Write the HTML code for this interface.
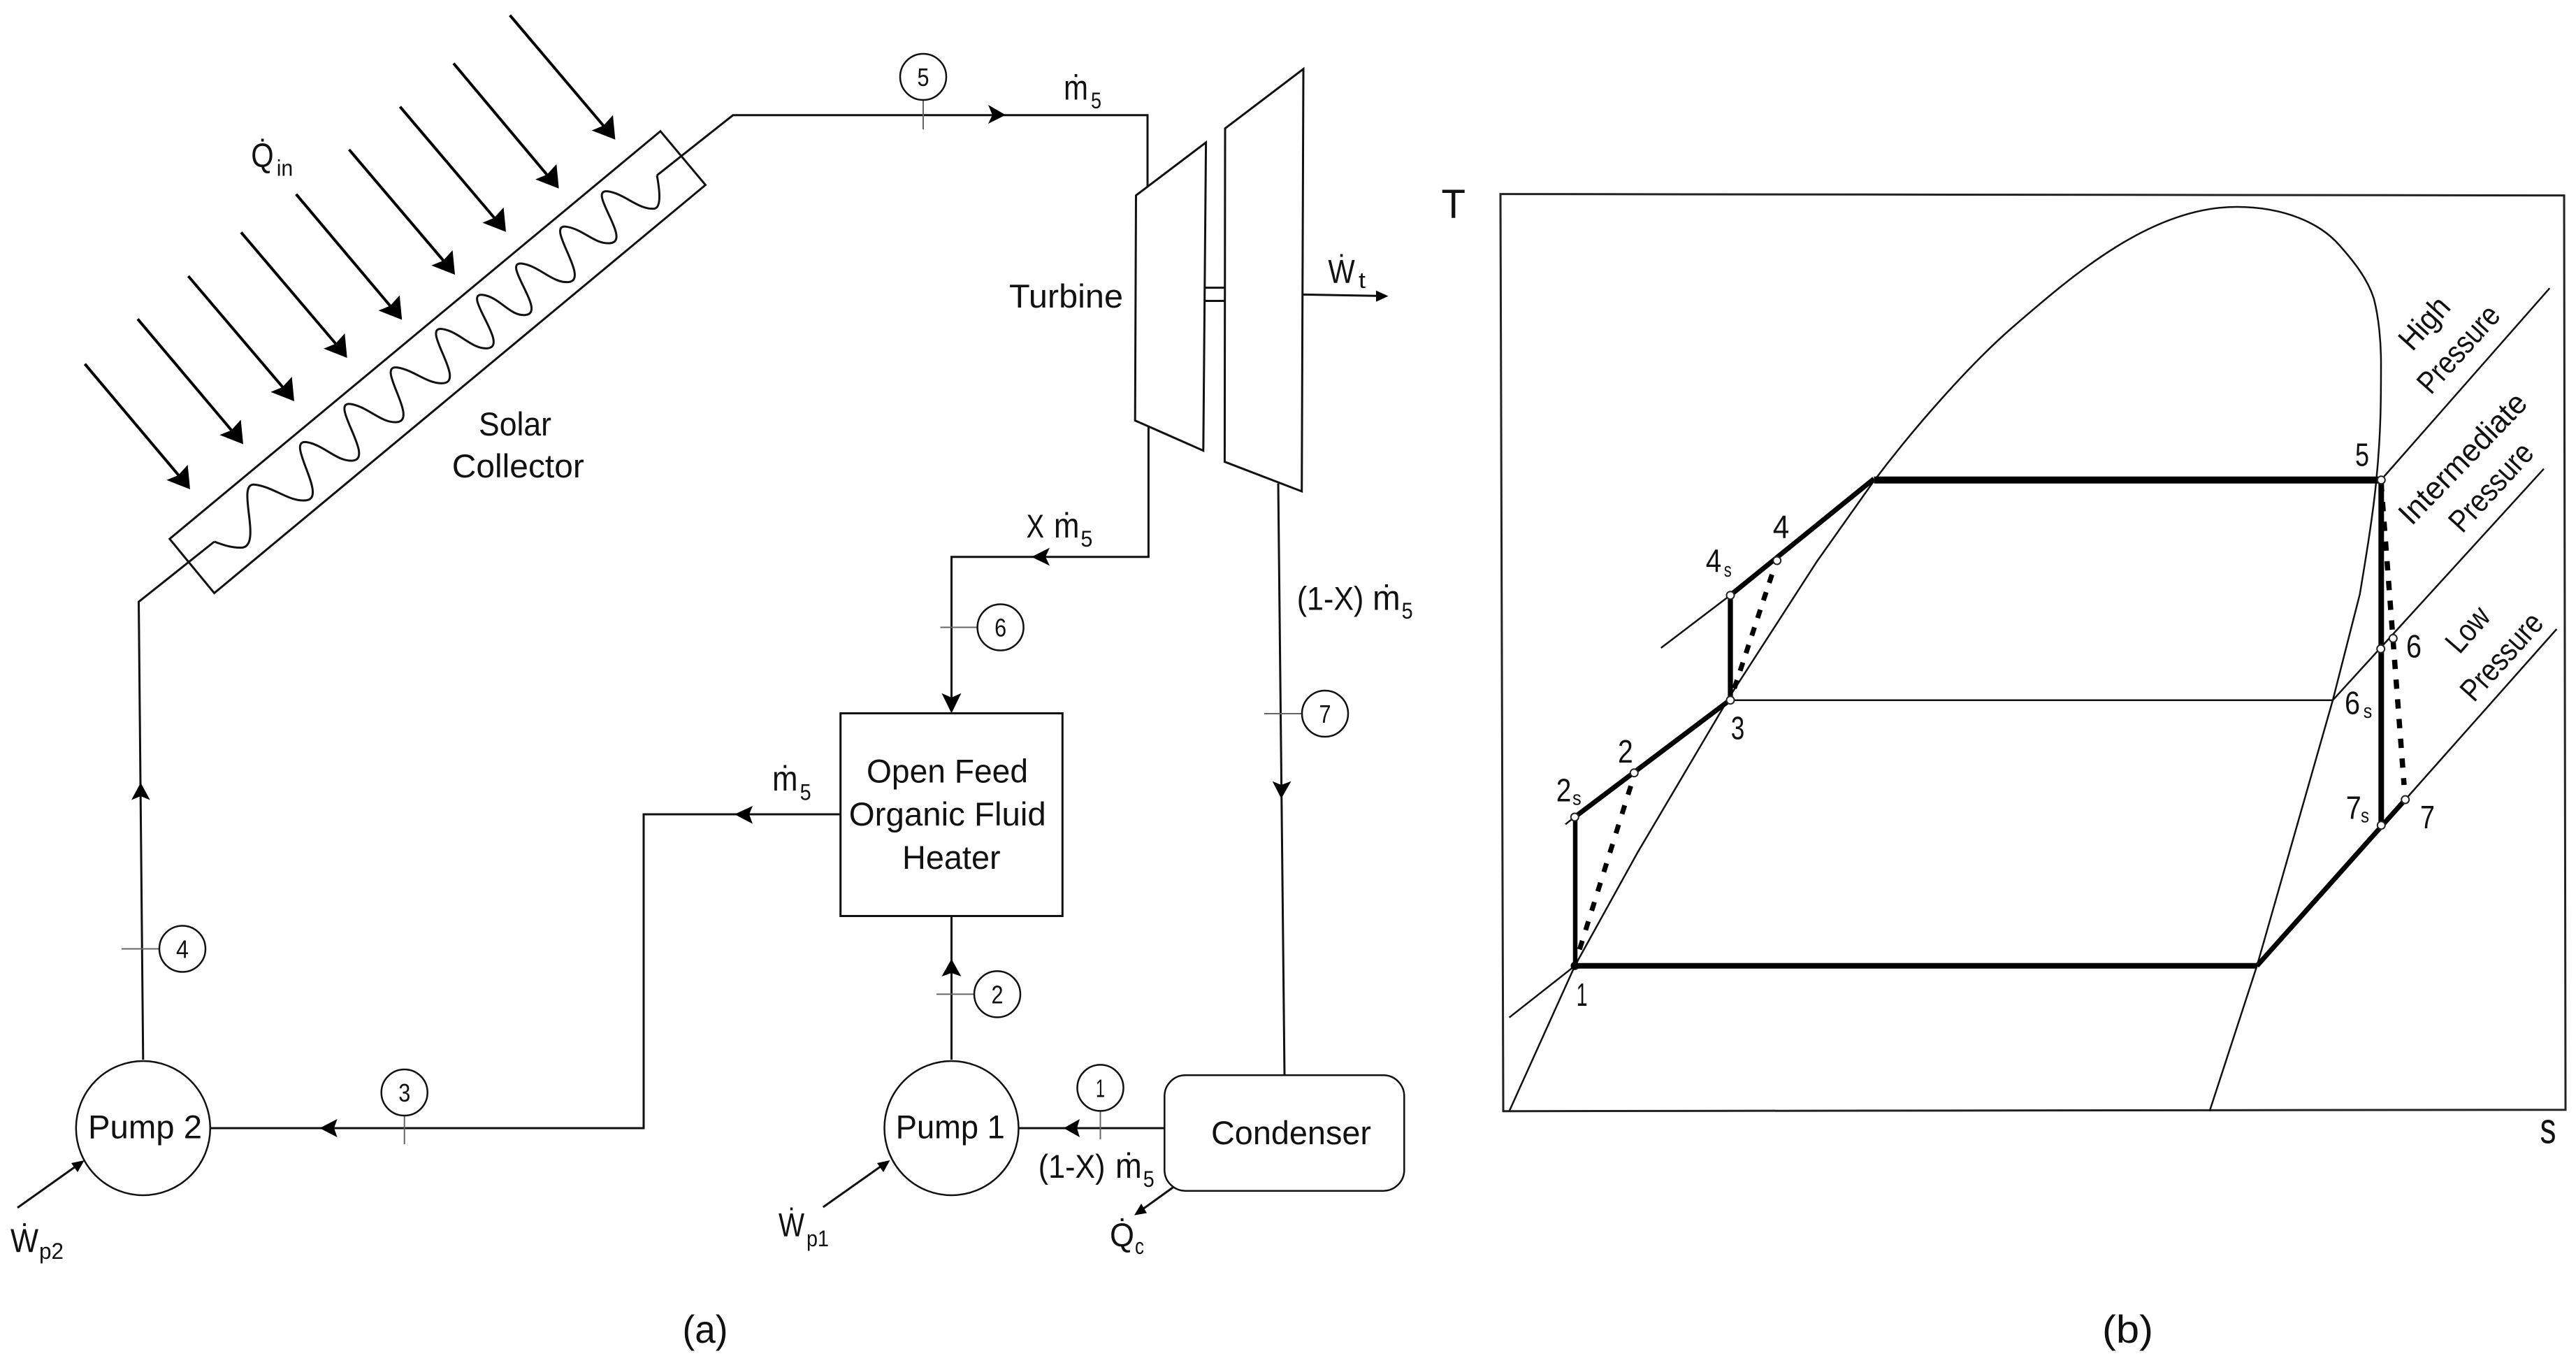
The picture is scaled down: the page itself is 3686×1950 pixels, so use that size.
<!DOCTYPE html>
<html><head><meta charset="utf-8"><title>Organic Rankine cycle diagram</title>
<style>
html,body{margin:0;padding:0;background:#fff}
svg{display:block}
text{font-family:"Liberation Sans","DejaVu Sans",sans-serif;font-size:47px;fill:#111}
.n{font-size:36px;text-anchor:middle}
.s{font-size:32px}
.m{font-size:50px}
.d{font-size:46px}
.p{font-size:45px}
.f{fill:none;stroke:#111;stroke-width:3}
.t{fill:none;stroke:#666;stroke-width:2}
.c{fill:#fff;stroke:#111;stroke-width:2.5}
.k{fill:none;stroke:#000;stroke-linecap:butt}
.o{fill:#fff;stroke:#222;stroke-width:2}
</style></head><body>
<svg xmlns="http://www.w3.org/2000/svg" width="3686" height="1950" viewBox="0 0 3686 1950">
<rect width="3686" height="1950" fill="#fff"/>

<!-- solar arrows -->
<g stroke="#000" stroke-width="4" fill="none">
<line x1="729.6" y1="21.8" x2="867" y2="184"/>
<line x1="649" y1="90.7" x2="786" y2="254"/>
<line x1="572.4" y1="152.7" x2="711" y2="316"/>
<line x1="499.5" y1="214" x2="638" y2="377"/>
<line x1="423.7" y1="277.8" x2="562" y2="442"/>
<line x1="345" y1="332.4" x2="484" y2="496"/>
<line x1="269.4" y1="395" x2="408" y2="558"/>
<line x1="197" y1="456.4" x2="335" y2="620"/>
<line x1="121.4" y1="520.7" x2="259" y2="684"/>
</g>
<g fill="#000">
<polygon transform="translate(880.4,199.8)" points="0,0 -33.7,-13.2 -17,-20 -3.4,-35"/>
<polygon transform="translate(799.7,269.8)" points="0,0 -33.7,-13.2 -17,-20 -3.4,-35"/>
<polygon transform="translate(724,331.8)" points="0,0 -33.7,-13.2 -17,-20 -3.4,-35"/>
<polygon transform="translate(651,393)" points="0,0 -33.7,-13.2 -17,-20 -3.4,-35"/>
<polygon transform="translate(575.2,457.5)" points="0,0 -33.7,-13.2 -17,-20 -3.4,-35"/>
<polygon transform="translate(496.7,512)" points="0,0 -33.7,-13.2 -17,-20 -3.4,-35"/>
<polygon transform="translate(421,574)" points="0,0 -33.7,-13.2 -17,-20 -3.4,-35"/>
<polygon transform="translate(348,635.5)" points="0,0 -33.7,-13.2 -17,-20 -3.4,-35"/>
<polygon transform="translate(272,700)" points="0,0 -33.7,-13.2 -17,-20 -3.4,-35"/>
</g>

<!-- collector -->
<polygon class="f" points="242.7,771 945,187.7 1009.5,264.6 306.6,848.5"/>
<g transform="scale(0.7015,0.574)">
<path fill="none" stroke="#111" stroke-width="3" vector-effect="non-scaling-stroke" d="M437 1350 C455 1358 470 1365 490 1365
C540 1368 478 1200 520 1208 C560 1214 590 1252 625 1247
C670 1240 580 1095 625 1102 C660 1108 688 1152 720 1148
C765 1142 670 1000 715 1007 C750 1013 778 1056 810 1052
C855 1046 765 909 810 916 C845 922 873 959 905 955
C950 949 857 813 902 820 C937 826 963 872 995 868
C1040 862 940 728 985 735 C1020 741 1040 789 1072 785
C1117 779 1020 650 1065 657 C1100 663 1128 707 1160 703
C1205 697 1110 558 1155 565 C1190 571 1213 610 1245 606
C1290 600 1195 470 1240 477 C1275 483 1303 524 1335 520
C1350 516 1345 470 1340 437"/>
</g>
<polyline class="f" points="204.8,1516 198.5,861 306.6,775"/>
<polyline class="f" points="940,250.9 1048.8,164.8 1642,164.8 1642,267"/>

<!-- turbine -->
<polygon class="f" points="1625.5,279.6 1725.6,203.8 1721.8,644.7 1624.2,601.6"/>
<polygon class="f" points="1753,183.7 1865,98.7 1862.7,703 1752.4,660.7"/>
<line class="f" x1="1724" y1="411.6" x2="1752" y2="411.6"/>
<line class="f" x1="1724" y1="430.5" x2="1752" y2="430.5"/>
<polyline class="f" points="1864,421.4 1975,423.4"/>
<polygon fill="#000" points="1986.5,423.6 1969,415.6 1969,431.7"/>
<polyline class="f" points="1643.4,610 1643.4,796.8 1361.5,796.8 1361.5,1000"/>
<polyline class="f" points="1829,691.7 1838,1538"/>

<!-- heater, pumps, condenser -->
<rect class="f" x="1202.7" y="1020.5" width="317.6" height="290"/>
<polyline class="f" points="1202.7,1165 921,1165 921,1614 301,1614"/>
<line class="f" x1="1361.5" y1="1310.6" x2="1361.5" y2="1516"/>
<circle class="c" cx="204.8" cy="1614" r="96"/>
<circle class="c" cx="1361.5" cy="1614" r="96"/>
<line class="f" x1="1457" y1="1614" x2="1666" y2="1614"/>
<rect class="c" x="1666.3" y="1538.3" width="343" height="165.4" rx="30" ry="30"/>

<!-- flow arrowheads -->
<g fill="#000">
<polygon points="1439,164.5 1414,150 1420,164.5 1414,177"/>
<polygon points="1476,796.8 1502,783.6 1496,796.8 1502,809.4"/>
<polygon points="1361.5,1020.5 1347.4,991.8 1361.5,998 1375.5,991.8"/>
<polygon points="1833.4,1142.5 1820.7,1117.7 1833.4,1123 1847.5,1117.7"/>
<polygon points="1051,1165 1077,1153 1072,1165 1077,1178.6"/>
<polygon points="457.4,1614 482.6,1601 478,1614 482.6,1627"/>
<polygon points="201.3,1119.7 188,1144.5 201.3,1139 214.7,1144.5"/>
<polygon points="1361.5,1372 1347.4,1397 1361.5,1392 1375.5,1397"/>
<polygon points="1522,1614 1545,1601 1541,1614 1545,1627"/>
</g>

<!-- work / heat arrows -->
<line class="f" x1="25" y1="1727.9" x2="110" y2="1667.5"/>
<polygon fill="#000" points="120.7,1660 102,1664 111,1677"/>
<line class="f" x1="1177.8" y1="1727" x2="1262" y2="1667.5"/>
<polygon fill="#000" points="1273.5,1660 1255,1664 1264,1677"/>
<line class="f" x1="1679" y1="1698.4" x2="1635" y2="1730"/>
<polygon fill="#000" points="1623,1738.6 1641,1735.5 1633,1722"/>

<!-- state markers -->
<line class="t" x1="1321" y1="143" x2="1321" y2="185"/>
<line class="t" x1="1345.5" y1="897.5" x2="1398" y2="897.5"/>
<line class="t" x1="1809" y1="1021" x2="1863" y2="1021"/>
<line class="t" x1="578.7" y1="1596" x2="578.7" y2="1637"/>
<line class="t" x1="174" y1="1357.5" x2="228" y2="1357.5"/>
<line class="t" x1="1340" y1="1422.4" x2="1394.6" y2="1422.4"/>
<line class="t" x1="1574.5" y1="1590" x2="1574.5" y2="1630"/>
<circle class="c" cx="1321" cy="110" r="33"/><text class="n" x="1321" y="123" textLength="17" lengthAdjust="spacingAndGlyphs">5</text>
<circle class="c" cx="1431.6" cy="897.5" r="33"/><text class="n" x="1431.6" y="910.5" textLength="17" lengthAdjust="spacingAndGlyphs">6</text>
<circle class="c" cx="1896" cy="1021" r="33"/><text class="n" x="1896" y="1034" textLength="17" lengthAdjust="spacingAndGlyphs">7</text>
<circle class="c" cx="578.7" cy="1563" r="33"/><text class="n" x="578.7" y="1576" textLength="17" lengthAdjust="spacingAndGlyphs">3</text>
<circle class="c" cx="261" cy="1357.5" r="33"/><text class="n" x="261" y="1370.5" textLength="18" lengthAdjust="spacingAndGlyphs">4</text>
<circle class="c" cx="1427" cy="1422.4" r="33"/><text class="n" x="1427" y="1435.4" textLength="17" lengthAdjust="spacingAndGlyphs">2</text>
<circle class="c" cx="1574.5" cy="1556.4" r="33"/><text class="n" x="1574.5" y="1569.4" textLength="13" lengthAdjust="spacingAndGlyphs">1</text>

<!-- labels (a) -->
<text style="font-size:48px" x="359.3" y="239" textLength="32.4" lengthAdjust="spacingAndGlyphs">Q̇</text><text class="s" x="395.7" y="251.7" textLength="23.6" lengthAdjust="spacingAndGlyphs">in</text>
<text x="685" y="623" textLength="104" lengthAdjust="spacingAndGlyphs">Solar</text>
<text x="646.8" y="683" textLength="189" lengthAdjust="spacingAndGlyphs">Collector</text>
<text class="m" x="1522" y="142.7" textLength="35" lengthAdjust="spacingAndGlyphs">ṁ</text><text class="s" x="1561" y="155" textLength="15" lengthAdjust="spacingAndGlyphs">5</text>
<text x="1444" y="440" textLength="163" lengthAdjust="spacingAndGlyphs">Turbine</text>
<text x="1900.4" y="404.7" textLength="38.3" lengthAdjust="spacingAndGlyphs">Ẇ</text><text class="s" x="1944" y="412" textLength="10" lengthAdjust="spacingAndGlyphs">t</text>
<text x="1468.6" y="769" textLength="25.4" lengthAdjust="spacingAndGlyphs">X</text><text class="m" x="1508" y="769" textLength="36.5" lengthAdjust="spacingAndGlyphs">ṁ</text><text class="s" x="1546.4" y="782" textLength="17" lengthAdjust="spacingAndGlyphs">5</text>
<text x="1855.7" y="872.6" textLength="95.7" lengthAdjust="spacingAndGlyphs">(1-X)</text><text class="m" x="1964" y="872.6" textLength="39.7" lengthAdjust="spacingAndGlyphs">ṁ</text><text class="s" x="2005.6" y="885" textLength="16" lengthAdjust="spacingAndGlyphs">5</text>
<text x="1240" y="1119.7" textLength="231" lengthAdjust="spacingAndGlyphs">Open Feed</text>
<text x="1214.8" y="1181" textLength="282" lengthAdjust="spacingAndGlyphs">Organic Fluid</text>
<text x="1291" y="1243" textLength="140.6" lengthAdjust="spacingAndGlyphs">Heater</text>
<text class="m" x="1105" y="1131" textLength="36.5" lengthAdjust="spacingAndGlyphs">ṁ</text><text class="s" x="1144.6" y="1144.5" textLength="16" lengthAdjust="spacingAndGlyphs">5</text>
<text x="126" y="1628.7" textLength="163" lengthAdjust="spacingAndGlyphs">Pump 2</text>
<text x="1281.8" y="1628.7" textLength="156" lengthAdjust="spacingAndGlyphs">Pump 1</text>
<text x="1733" y="1636.8" textLength="229" lengthAdjust="spacingAndGlyphs">Condenser</text>
<text x="1485.8" y="1685" textLength="95.7" lengthAdjust="spacingAndGlyphs">(1-X)</text><text class="m" x="1596" y="1685" textLength="37.8" lengthAdjust="spacingAndGlyphs">ṁ</text><text class="s" x="1635.7" y="1698" textLength="16" lengthAdjust="spacingAndGlyphs">5</text>
<text x="15" y="1790.8" textLength="40" lengthAdjust="spacingAndGlyphs">Ẇ</text><text class="s" x="56" y="1801" textLength="35" lengthAdjust="spacingAndGlyphs">p2</text>
<text x="1114" y="1768.7" textLength="37" lengthAdjust="spacingAndGlyphs">Ẇ</text><text class="s" x="1154" y="1783" textLength="32" lengthAdjust="spacingAndGlyphs">p1</text>
<text x="1588" y="1782.8" textLength="35" lengthAdjust="spacingAndGlyphs">Q̇</text><text class="s" x="1624" y="1794" textLength="13" lengthAdjust="spacingAndGlyphs">c</text>
<text x="976.5" y="1921" style="font-size:56px" textLength="65" lengthAdjust="spacingAndGlyphs">(a)</text>

<!-- T-s diagram -->
<polygon fill="none" stroke="#222" stroke-width="3" points="2147,277.6 3669,279.6 3671,1587.7 2151,1589.7"/>
<text x="2062.5" y="312" style="font-size:58px" textLength="34.5" lengthAdjust="spacingAndGlyphs">T</text>
<text x="3634.5" y="1635.6" style="font-size:62px" textLength="23" lengthAdjust="spacingAndGlyphs">s</text>
<text x="3008" y="1921" style="font-size:56px" textLength="73" lengthAdjust="spacingAndGlyphs">(b)</text>

<path fill="none" stroke="#111" stroke-width="2.5" d="M2159.6 1589.7 L2253.5 1381.8 L2343 1220 L2476 995 L2600 803 L2680 690 C2740 610 2820 520 2880 468 C2970 390 3080 296 3200 296 C3270 296 3320 320 3346.7 350 C3370 376 3388 400 3396.7 427 C3404 455 3407 490 3407 520 C3407 570 3407 620 3400 690 C3395 740 3385 800 3376.7 850 L3338 1001.7 L3229.5 1381.8 L3161.7 1589.7"/>

<g fill="none" stroke="#111" stroke-width="2.5">
<line x1="3407" y1="686.7" x2="3648.3" y2="412.3"/>
<line x1="3338" y1="1001.7" x2="3640" y2="670.7"/>
<line x1="3441.7" y1="1144" x2="3658.3" y2="900"/>
<line x1="2376.7" y1="927" x2="2476" y2="851.5"/>
<line x1="2159.6" y1="1455.7" x2="2253.5" y2="1381.8"/>
<line x1="2240" y1="1179.3" x2="2253" y2="1169"/>
<line x1="2476" y1="1001.7" x2="3338" y2="1001.7"/>
</g>

<g class="k">
<line stroke-width="8" x1="2253.5" y1="1381.8" x2="3229.5" y2="1381.8"/>
<line stroke-width="10" x1="2681.5" y1="686.7" x2="3407" y2="686.7"/>
<line stroke-width="8" x1="3407.3" y1="686" x2="3407.3" y2="1180"/>
<line stroke-width="7" x1="3229.5" y1="1381.8" x2="3441.7" y2="1144"/>
<line stroke-width="7" x1="2476" y1="851.5" x2="2681.5" y2="685"/>
<line stroke-width="7.3" x1="2476" y1="851.5" x2="2476" y2="1001"/>
<line stroke-width="7" x1="2253.5" y1="1168.8" x2="2476" y2="1001"/>
<line stroke-width="6.5" x1="2254" y1="1168.8" x2="2254" y2="1381.8"/>
<line stroke-width="7.5" stroke-dasharray="13.3 15" x1="3407" y1="690" x2="3440" y2="1123"/>
<line stroke-width="7" stroke-dasharray="12.5 14" x1="2535.5" y1="822" x2="2478" y2="996"/>
<line stroke-width="7" stroke-dasharray="13 16" x1="2333.5" y1="1124.5" x2="2255" y2="1375"/>
</g>

<circle class="o" cx="3407.3" cy="686.7" r="5.5"/>
<circle class="o" cx="3424.3" cy="913.3" r="5.5"/>
<circle class="o" cx="3406.7" cy="928.3" r="5.5"/>
<circle class="o" cx="3407.3" cy="1180.7" r="5.5"/>
<circle class="o" cx="3441.7" cy="1144" r="5.5"/>
<circle class="o" cx="2476" cy="851.7" r="5.5"/>
<circle class="o" cx="2542.7" cy="802" r="5.5"/>
<circle class="o" cx="2476" cy="1001.7" r="5.5"/>
<circle class="o" cx="2338.3" cy="1105.7" r="5.5"/>
<circle class="o" cx="2253.3" cy="1169" r="5.5"/>
<circle cx="2253.5" cy="1381.8" r="6" fill="#000"/>

<text class="d" x="3370" y="666.7" textLength="20" lengthAdjust="spacingAndGlyphs">5</text>
<text class="d" x="2536.7" y="769.3" textLength="23.5" lengthAdjust="spacingAndGlyphs">4</text>
<text class="d" x="2440.7" y="818" textLength="22.5" lengthAdjust="spacingAndGlyphs">4</text><text style="font-size:29px" x="2466.7" y="825" textLength="11" lengthAdjust="spacingAndGlyphs">s</text>
<text class="d" x="2476.7" y="1057.3" textLength="19.5" lengthAdjust="spacingAndGlyphs">3</text>
<text class="d" x="2315" y="1091" textLength="21.7" lengthAdjust="spacingAndGlyphs">2</text>
<text class="d" x="2226.7" y="1146.7" textLength="21.6" lengthAdjust="spacingAndGlyphs">2</text><text style="font-size:29px" x="2250" y="1151.7" textLength="12.7" lengthAdjust="spacingAndGlyphs">s</text>
<text class="d" x="2255.6" y="1439" textLength="16" lengthAdjust="spacingAndGlyphs">1</text>
<text class="d" x="3443" y="940.7" textLength="22" lengthAdjust="spacingAndGlyphs">6</text>
<text class="d" x="3355" y="1021.7" textLength="22" lengthAdjust="spacingAndGlyphs">6</text><text style="font-size:29px" x="3381.7" y="1027" textLength="12.5" lengthAdjust="spacingAndGlyphs">s</text>
<text class="d" x="3356.7" y="1171.7" textLength="22" lengthAdjust="spacingAndGlyphs">7</text><text style="font-size:29px" x="3378" y="1176.7" textLength="12" lengthAdjust="spacingAndGlyphs">s</text>
<text class="d" x="3463" y="1185" textLength="21" lengthAdjust="spacingAndGlyphs">7</text>

<text class="p" transform="translate(3451.7,504) rotate(-48)" textLength="85" lengthAdjust="spacingAndGlyphs">High</text>
<text class="p" transform="translate(3478.3,566) rotate(-48)" textLength="152" lengthAdjust="spacingAndGlyphs">Pressure</text>
<text class="p" transform="translate(3450.7,753.3) rotate(-46)" textLength="242" lengthAdjust="spacingAndGlyphs">Intermediate</text>
<text class="p" transform="translate(3523.3,764.3) rotate(-47.5)" textLength="155" lengthAdjust="spacingAndGlyphs">Pressure</text>
<text class="p" transform="translate(3519.3,937.3) rotate(-49)" textLength="71" lengthAdjust="spacingAndGlyphs">Low</text>
<text class="p" transform="translate(3540,1006) rotate(-48)" textLength="152" lengthAdjust="spacingAndGlyphs">Pressure</text>
</svg>
</body></html>
